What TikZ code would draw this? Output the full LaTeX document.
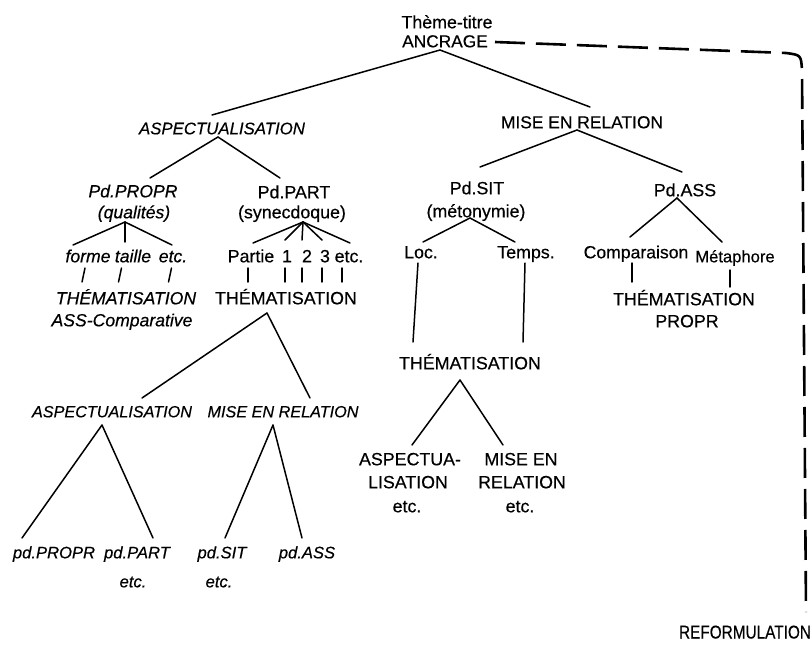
\documentclass[tikz,border=0pt]{standalone}
\usepackage{fontspec}
\setmainfont{Liberation Sans}[UprightFeatures={FakeBold=0.4},ItalicFeatures={FakeBold=0.4}]
\usetikzlibrary{calc}
\begin{document}
\begin{tikzpicture}[x=1pt,y=-1pt,
  lbl/.style={inner sep=0pt, text height=12.6pt, text depth=0pt, font=\fontsize{17.8}{20}\selectfont},
  lbli/.style={lbl, font=\fontsize{17.6}{20}\selectfont\itshape},
  lbls/.style={lbl, font=\fontsize{16.2}{20}\selectfont\itshape},
  conn/.style={line width=1.5pt, line cap=round},
  reformline/.style={line width=2.6pt, dash pattern=on 30pt off 11pt},
]
\fill[white] (0,0) rectangle (812,648);
\useasboundingbox (0,0) rectangle (812,648);

% top
\node[lbl] (theme) at (447,22) {Thème-titre};
\node[lbl, font=\fontsize{17.3}{20}\selectfont] (anc) at (445,41) {ANCRAGE};
\node[lbli, font=\fontsize{16.8}{20}\selectfont\itshape] (asp1) at (222,128) {ASPECTUALISATION};
\node[lbl, font=\fontsize{17.4}{20}\selectfont] (mer1) at (582,122) {MISE EN RELATION};

% left subtree
\node[lbli] (pdpropr) at (133,191) {Pd.PROPR};
\node[lbli] (qual) at (134,212) {(qualités)};
\node[lbl] (pdpart) at (294,192) {Pd.PART};
\node[lbl] (syn) at (292,212) {(synecdoque)};
\node[lbli] (forme) at (88,256) {forme};
\node[lbli] (taille) at (133,256) {taille};
\node[lbli] (etca) at (173,256) {etc.};
\node[lbli] (them1) at (126,298) {THÉMATISATION};
\node[lbli] (asscomp) at (122,320) {ASS-Comparative};
\node[lbl] (partie) at (251,256) {Partie};
\node[lbl] (na) at (287,256) {1};
\node[lbl] (nb) at (307,256) {2};
\node[lbl] (nc) at (325,256) {3};
\node[lbl] (etcb) at (349,256) {etc.};
\node[lbl] (them2) at (286,298) {THÉMATISATION};
\node[lbls] (asp2) at (112,411) {ASPECTUALISATION};
\node[lbls] (mer2) at (283,411) {MISE EN RELATION};
\node[lbls, font=\fontsize{16.6}{20}\selectfont\itshape] (pdpropr2) at (54,552) {pd.PROPR};
\node[lbls, font=\fontsize{16.6}{20}\selectfont\itshape] (pdpart2) at (137,552) {pd.PART};
\node[lbls, font=\fontsize{16.6}{20}\selectfont\itshape] (etcc) at (133,581) {etc.};
\node[lbls, font=\fontsize{16.6}{20}\selectfont\itshape] (pdsit2) at (222,552) {pd.SIT};
\node[lbls, font=\fontsize{16.6}{20}\selectfont\itshape] (etcd) at (219,581) {etc.};
\node[lbls, font=\fontsize{16.6}{20}\selectfont\itshape] (pdass2) at (307,552) {pd.ASS};

% middle subtree
\node[lbl] (pdsit) at (477,188) {Pd.SIT};
\node[lbl] (meto) at (476,211) {(métonymie)};
\node[lbl] (loc) at (421,252) {Loc.};
\node[lbl] (temps) at (526,252) {Temps.};
\node[lbl] (them4) at (470,363) {THÉMATISATION};
\node[lbl] (aspe) at (410,459) {ASPECTUA-};
\node[lbl] (lisa) at (408,482) {LISATION};
\node[lbl] (etce) at (407,506) {etc.};
\node[lbl] (mise) at (521,459) {MISE EN};
\node[lbl] (rel) at (522,482) {RELATION};
\node[lbl] (etcf) at (520,506) {etc.};

% right subtree
\node[lbl] (pdass) at (685,190) {Pd.ASS};
\node[lbl, font=\fontsize{17.6}{20}\selectfont] (comp) at (636,252) {Comparaison};
\node[lbl, font=\fontsize{16.6}{20}\selectfont] (meta) at (735,256) {Métaphore};
\node[lbl] (them3) at (684,299) {THÉMATISATION};
\node[lbl] (propr) at (687,321) {PROPR};

\node[lbl, text height=13pt, font=\fontsize{18.5}{20}\selectfont] (reform) at (745,632) {\scalebox{0.83}[1]{REFORMULATION}};

% connectors
\draw[conn] ($(anc)+(-5,9)$) -- ($(asp1)+(-10,-13)$);
\draw[conn] ($(anc)+(-5,9)$) -- ($(mer1)+(8,-15)$);
\draw[conn] ($(asp1)+(-4,9)$) -- ($(pdpropr)+(17,-13)$);
\draw[conn] ($(asp1)+(-4,9)$) -- ($(pdpart)+(-14,-14)$);
\draw[conn] ($(mer1)+(-5,8)$) -- ($(pdsit)+(3,-21)$);
\draw[conn] ($(mer1)+(-5,8)$) -- ($(pdass)+(-3,-18)$);

\draw[conn] ($(qual)+(-9,10)$) -- ($(forme)+(-15,-11)$);
\draw[conn] ($(qual)+(-9,10)$) -- ($(taille)+(-8,-14)$);
\draw[conn] ($(qual)+(-9,10)$) -- ($(etca)+(-1,-11)$);
\draw[conn] ($(syn)+(11,10)$) -- ($(partie)+(2,-13)$);
\draw[conn] ($(syn)+(11,10)$) -- ($(na)+(-2,-16)$);
\draw[conn] ($(syn)+(11,10)$) -- ($(nb)+(-5,-16)$);
\draw[conn] ($(syn)+(11,10)$) -- ($(nc)+(-3,-16)$);
\draw[conn] ($(syn)+(11,10)$) -- ($(etcb)+(1,-13)$);

\draw[conn] ($(forme)+(-3,12)$) -- ($(them1)+(-44,-16)$);
\draw[conn] ($(taille)+(-11.5,12)$) -- ($(them1)+(-7.5,-16)$);
\draw[conn] ($(etca)+(-1.5,12)$) -- ($(them1)+(42.5,-16)$);
\draw[conn] ($(partie)+(-3,12)$) -- ($(them2)+(-38,-16)$);
\draw[conn] ($(na)+(-2,12)$) -- ($(them2)+(-1,-16)$);
\draw[conn] ($(nb)+(-5,12)$) -- ($(them2)+(16,-16)$);
\draw[conn] ($(nc)+(-3,12)$) -- ($(them2)+(36,-16)$);
\draw[conn] ($(etcb)+(-7,12)$) -- ($(them2)+(56,-16)$);

\draw[conn] ($(them2)+(-19,15)$) -- ($(asp2)+(30,-13)$);
\draw[conn] ($(them2)+(-19,15)$) -- ($(mer2)+(27,-13)$);
\draw[conn] ($(asp2)+(-10,14)$) -- ($(pdpropr2)+(-32,-14)$);
\draw[conn] ($(asp2)+(-10,14)$) -- ($(pdpart2)+(16,-14)$);
\draw[conn] ($(mer2)+(-10,14)$) -- ($(pdsit2)+(3,-14)$);
\draw[conn] ($(mer2)+(-10,14)$) -- ($(pdass2)+(-5,-14)$);

\draw[conn] ($(meto)+(-6,7)$) -- ($(loc)+(2,-10)$);
\draw[conn] ($(meto)+(-6,7)$) -- ($(temps)+(-11,-10)$);
\draw[conn] ($(loc)+(-3,11)$) -- ($(them4)+(-57,-21)$);
\draw[conn] ($(temps)+(-1,11)$) -- ($(them4)+(53,-21)$);
\draw[conn] ($(them4)+(-10,17)$) -- ($(aspe)+(2,-14)$);
\draw[conn] ($(them4)+(-10,17)$) -- ($(mise)+(-18,-14)$);

\draw[conn] ($(pdass)+(-8,8)$) -- ($(comp)+(-6,-15)$);
\draw[conn] ($(pdass)+(-8,8)$) -- ($(meta)+(-13,-14)$);
\draw[conn] ($(comp)+(-4,11)$) -- ($(them3)+(-52,-17)$);
\draw[conn] ($(meta)+(-5,14)$) -- ($(them3)+(46,-12)$);

% reformulation dashed line
\coordinate (ca) at (786,53);
\coordinate (cb) at (802,70);
\draw[reformline] ($(anc)+(50,1)$) -- (ca) .. controls (801,55) .. (cb) -- ($(reform)+(61,-20)$);
\end{tikzpicture}
\end{document}
